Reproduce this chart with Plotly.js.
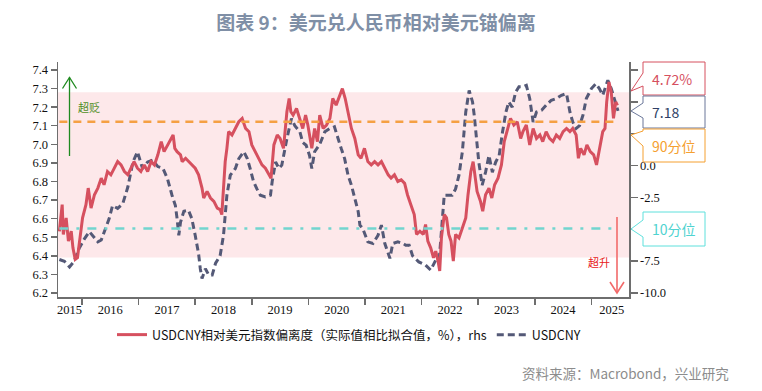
<!DOCTYPE html>
<html><head><meta charset="utf-8">
<script src="https://cdn.plot.ly/plotly-3.0.1.min.js"></script>
<style>html,body{margin:0;padding:0;background:#fff}#chart{width:762px;height:391px}</style>
</head><body><div id="chart"></div>
<script>
// ---------- DATA (time in decimal years) ----------
const usdT = [2015.60,2015.69,2015.78,2015.86,2015.95,2016.04,2016.13,2016.19,2016.28,2016.34,2016.42,2016.48,2016.54,2016.63,2016.72,2016.81,2016.90,2016.98,
2017.07,2017.16,2017.25,2017.34,2017.43,2017.51,2017.59,2017.65,2017.68,2017.71,2017.74,2017.80,2017.88,2017.94,
2018.00,2018.06,2018.09,2018.12,2018.18,2018.24,2018.30,2018.36,2018.44,2018.50,2018.56,2018.62,2018.71,2018.77,2018.86,2018.92,2018.97,
2019.03,2019.09,2019.15,2019.24,2019.33,2019.36,2019.42,2019.48,2019.53,2019.62,2019.70,2019.76,2019.85,2019.90,2019.96,
2020.02,2020.06,2020.11,2020.20,2020.29,2020.38,2020.46,2020.52,2020.58,2020.64,2020.70,2020.76,2020.82,2020.88,2020.91,2020.96,
2021.05,2021.14,2021.23,2021.29,2021.35,2021.44,2021.49,2021.58,2021.67,2021.72,2021.78,2021.84,2021.95,
2022.07,2022.16,2022.25,2022.31,2022.34,2022.40,2022.45,2022.54,2022.60,2022.66,2022.72,2022.75,2022.78,2022.84,2022.90,2022.93,2022.96,2022.98,
2023.01,2023.07,2023.13,2023.19,2023.25,2023.31,2023.37,2023.43,2023.49,2023.54,2023.60,2023.66,2023.72,2023.79,2023.85,2023.91,2023.97,
2024.03,2024.12,2024.20,2024.29,2024.38,2024.47,2024.56,2024.62,2024.67,2024.73,2024.79,2024.85,2024.91,
2025.00,2025.08,2025.14,2025.20,2025.26,2025.29,2025.35,2025.41,2025.47];
const usdV = [6.38,6.37,6.34,6.37,6.44,6.49,6.53,6.51,6.475,6.485,6.547,6.60,6.67,6.655,6.68,6.77,6.905,6.96,
6.87,6.905,6.915,6.88,6.87,6.815,6.726,6.67,6.60,6.51,6.58,6.64,6.645,6.60,
6.51,6.41,6.33,6.278,6.33,6.296,6.296,6.36,6.40,6.51,6.726,6.834,6.87,6.923,6.96,6.923,6.87,
6.80,6.76,6.726,6.717,6.726,6.80,6.905,6.87,6.888,7.03,7.138,7.10,7.067,7.01,6.995,
6.94,6.87,6.96,7.00,7.067,7.085,7.094,7.03,6.977,6.923,6.834,6.78,6.708,6.637,6.565,6.547,
6.475,6.466,6.51,6.565,6.466,6.386,6.466,6.475,6.466,6.457,6.457,6.40,6.367,
6.35,6.323,6.377,6.377,6.51,6.726,6.726,6.726,6.76,6.834,6.96,7.05,7.174,7.29,7.228,7.156,7.05,6.977,
6.905,6.78,6.85,6.94,6.85,6.905,6.94,7.067,7.174,7.228,7.20,7.28,7.31,7.31,7.318,7.246,7.12,
7.174,7.183,7.21,7.237,7.246,7.264,7.273,7.174,7.12,7.085,7.10,7.156,7.246,
7.30,7.326,7.30,7.264,7.318,7.345,7.30,7.246,7.18];

const devT = [2015.60,2015.65,2015.67,2015.72,2015.76,2015.81,2015.84,2015.88,2015.92,2015.96,
2016.01,2016.07,2016.11,2016.16,2016.22,2016.28,2016.34,2016.39,2016.45,2016.51,2016.57,2016.63,2016.69,2016.75,2016.81,2016.87,2016.92,2016.98,
2017.04,2017.10,2017.16,2017.22,2017.28,2017.34,2017.40,2017.45,2017.51,2017.57,2017.61,2017.64,2017.68,2017.74,2017.77,2017.83,2017.89,2017.94,
2018.00,2018.06,2018.12,2018.15,2018.21,2018.27,2018.33,2018.39,2018.44,2018.47,2018.50,2018.53,2018.56,2018.59,2018.65,2018.71,2018.77,2018.83,2018.89,2018.95,
2019.00,2019.06,2019.12,2019.18,2019.24,2019.30,2019.34,2019.39,2019.45,2019.50,2019.56,2019.62,2019.66,2019.69,2019.73,2019.79,2019.85,2019.90,2019.95,2019.99,
2020.06,2020.11,2020.16,2020.20,2020.26,2020.32,2020.38,2020.43,2020.49,2020.55,2020.60,2020.65,2020.70,2020.76,2020.82,2020.88,2020.93,2020.99,
2021.05,2021.11,2021.17,2021.23,2021.29,2021.35,2021.41,2021.46,2021.52,2021.58,2021.64,2021.70,2021.75,2021.81,2021.87,2021.91,2021.97,
2022.03,2022.07,2022.11,2022.16,2022.21,2022.25,2022.29,2022.32,2022.35,2022.40,2022.44,2022.48,2022.52,2022.56,2022.60,2022.66,2022.72,2022.78,2022.82,2022.87,2022.91,2022.94,2022.98,
2023.04,2023.08,2023.13,2023.19,2023.24,2023.29,2023.35,2023.41,2023.46,2023.52,2023.57,2023.63,2023.69,2023.75,2023.79,2023.85,2023.91,2023.97,
2024.03,2024.09,2024.14,2024.20,2024.26,2024.32,2024.38,2024.44,2024.50,2024.56,2024.62,2024.67,2024.73,2024.77,2024.81,2024.87,2024.92,2024.98,
2025.04,2025.09,2025.14,2025.20,2025.24,2025.27,2025.31,2025.35,2025.39,2025.43,2025.46];
const devV = [-5.16,-3.07,-5.41,-4.11,-5.94,-5.16,-6.46,-7.37,-7.24,-5.68,
-4.11,-3.07,-1.77,-3.34,-2.29,-1.77,-0.99,-1.51,-0.47,-0.73,-0.21,0.31,0.05,-0.47,-0.73,-0.21,0.31,-0.21,
-0.47,0.05,-0.47,0.31,0.05,0.84,1.88,1.09,1.62,2.13,2.40,1.35,1.09,0.84,0.31,0.57,0.31,0.05,
-0.21,-0.73,-1.77,-2.55,-2.03,-2.55,-2.81,-3.34,-3.46,-3.85,-1.77,0.31,1.35,2.66,2.40,2.91,3.44,3.70,2.91,2.66,
1.62,1.09,0.57,0.05,-0.21,-0.73,-0.99,1.62,2.40,2.13,1.35,4.22,5.26,4.22,3.96,4.48,3.70,2.91,3.96,3.18,
1.35,2.91,1.88,3.96,2.91,3.18,3.70,5.26,4.74,5.52,6.04,5.26,4.22,2.91,2.13,0.84,0.57,1.35,
0.31,0.05,0.31,0.05,0.31,-0.21,-0.73,-0.99,-0.73,-1.25,-1.12,-1.40,-2.29,-3.07,-3.85,-5.41,-5.16,
-5.41,-4.63,-5.94,-6.46,-7.24,-6.72,-7.50,-8.28,-5.68,-3.85,-4.11,-5.41,-5.94,-7.50,-5.41,-5.68,-4.90,-4.11,-2.29,-0.47,0.31,-0.73,-2.03,
-2.81,-3.59,-2.29,-1.77,-2.55,-1.51,-0.99,0.05,1.88,2.91,3.70,3.18,3.44,2.13,2.66,3.18,1.62,2.91,
2.13,2.40,1.88,2.66,2.13,1.88,2.40,2.13,2.66,2.91,2.66,2.91,2.40,0.57,1.35,0.84,1.62,1.09,
0.84,0.05,1.35,2.66,2.91,5.00,6.56,5.78,3.70,5.00,4.72];

const yearLabels = ['2015','2016','2017','2018','2019','2020','2021','2022','2023','2024','2025'];
const yearLabelPos = [2015.78,2016.5,2017.5,2018.5,2019.5,2020.5,2021.5,2022.5,2023.5,2024.5,2025.36];
const yearTicks = [2016,2017,2018,2019,2020,2021,2022,2023,2024,2025];
const leftTicks = [6.2,6.3,6.4,6.5,6.6,6.7,6.8,6.9,7.0,7.1,7.2,7.3,7.4];
const rightTicks = [-10,-7.5,-5,-2.5,0,2.5,5,7.5];
const rightTickText = ['-10.0','-7.5','','-2.5','0.0','','',''];
const pct90 = 3.44, pct10 = -4.95;          // percentile lines (rhs)
const bandLow = 6.39, bandHigh = 7.28;      // shaded zone (lhs)
const lastDevLabel = '4.72%', lastUsdLabel = '7.18';
const nameDev = 'USDCNY相对美元指数偏离度（实际值相比拟合值，%），rhs';
const nameUsd = 'USDCNY';

// ---------- LAYOUT HELPERS ----------
const W = 762, H = 391, L = 58, R = 629, T = 62, B = 297;
const px = x => (x - L) / (R - L);
const py = y => (B - y) / (B - T);
const CJK = '"Noto Sans CJK SC", "Noto Sans", sans-serif';
const SERIF = '"Liberation Serif", "DejaVu Serif", serif';

function callout(y0, y1, n1, n2, ty, color) {
  const x0 = 643, x1 = 705, tx = 631;
  const p = `M ${px(x0)},${py(y0)} L ${px(x1)},${py(y0)} L ${px(x1)},${py(y1)} L ${px(x0)},${py(y1)} ` +
            `L ${px(x0)},${py(n2)} L ${px(tx)},${py(ty)} L ${px(x0)},${py(n1)} Z`;
  return {type:'path', xref:'paper', yref:'paper', path:p, fillcolor:'#ffffff',
          line:{color:color, width:1}, layer:'above'};
}
function calloutText(txt, yc, color) {
  return {xref:'paper', yref:'paper', x:px(650), y:py(yc), xanchor:'left', yanchor:'middle',
          text:txt, showarrow:false, font:{family:CJK, size:14, color:color}};
}

const t0 = devT[0], t1 = devT[devT.length-1];

const traces = [
  {x: devT, y: devV, yaxis:'y2', type:'scatter', mode:'lines', name:nameDev,
   line:{color:'#d6505f', width:3}},
  {x: usdT, y: usdV, yaxis:'y', type:'scatter', mode:'lines', name:nameUsd,
   line:{color:'#545977', width:3, dash:'7px,4px'}},
  {x:[t0,t1], y:[pct90,pct90], yaxis:'y2', mode:'lines', showlegend:false, hoverinfo:'skip',
   line:{color:'#f5a043', width:2.5, dash:'8px,6px'}},
  {x:[t0,t1], y:[pct10,pct10], yaxis:'y2', mode:'lines', showlegend:false, hoverinfo:'skip',
   line:{color:'#72d5cf', width:2.5, dash:'9px,8px,3px,8px'}}
];

const layout = {
  width:W, height:H, margin:{l:L, r:W-R, t:T, b:H-B}, paper_bgcolor:'#fff', plot_bgcolor:'rgba(0,0,0,0)',
  title:{text:'<b>图表 9：美元兑人民币相对美元锚偏离</b>', x:376/W, xref:'container', y:1-23/H, yref:'container',
         xanchor:'center', yanchor:'middle', font:{family:CJK, size:19, color:'#7f8fa6'}},
  showlegend:true,
  legend:{orientation:'h', x:px(112), y:py(320), xanchor:'left', yanchor:'top',
          font:{family:CJK, size:12.5, color:'#111'}, bgcolor:'rgba(0,0,0,0)', itemwidth:30, tracegroupgap:0},
  xaxis:{type:'linear', range:[2015.576, 2025.664], showgrid:false, zeroline:false,
         showline:true, linecolor:'#6e6e6e', linewidth:1.5,
         tickmode:'array', tickvals:yearLabelPos, ticktext:yearLabels, ticks:'',
         tickfont:{family:SERIF, size:12.5, color:'#111'},
         minor:{tickmode:'array', tickvals:yearTicks, ticks:'outside', ticklen:6, tickcolor:'#6e6e6e', tickwidth:1.5, showgrid:false}},
  yaxis:{range:[6.178, 7.443], showgrid:false, zeroline:false, showline:true, linecolor:'#6e6e6e', linewidth:1.5,
         tickmode:'array', tickvals:leftTicks, tickformat:'.1f', ticks:'outside', ticklen:6, tickcolor:'#6e6e6e', tickwidth:1.5,
         tickfont:{family:SERIF, size:12.5, color:'#111'}},
  yaxis2:{overlaying:'y', side:'right', range:[-10.32, 8.127], showgrid:false, zeroline:false,
          showline:true, linecolor:'#6e6e6e', linewidth:1.5,
          tickmode:'array', tickvals:rightTicks, ticktext:rightTickText, ticks:'outside', ticklen:7, tickcolor:'#6e6e6e', tickwidth:1.5,
          tickfont:{family:SERIF, size:12.5, color:'#111'}},
  shapes:[
    {type:'rect', xref:'paper', yref:'y', x0:0, x1:1, y0:bandLow, y1:bandHigh, fillcolor:'#fde8ea', line:{width:0}, layer:'below'},
    // green arrow (超贬)
    {type:'line', xref:'paper', yref:'paper', x0:px(69.5), x1:px(69.5), y0:py(156), y1:py(77.5), line:{color:'#1f8a1f', width:1.3}},
    {type:'path', xref:'paper', yref:'paper', path:`M ${px(62.5)},${py(88.5)} L ${px(69.5)},${py(77.5)} L ${px(76.5)},${py(88.5)}`, line:{color:'#1f8a1f', width:1.3}},
    // red arrow (超升)
    {type:'line', xref:'paper', yref:'paper', x0:px(617), x1:px(617), y0:py(217), y1:py(293), line:{color:'#f26a6a', width:1.6}},
    {type:'path', xref:'paper', yref:'paper', path:`M ${px(610)},${py(282)} L ${px(617)},${py(293)} L ${px(624)},${py(282)}`, line:{color:'#f26a6a', width:1.6}},
    callout(62, 95, 73, 86, 91, '#d6505f'),
    callout(96, 128, 103, 118, 111, '#6b7799'),
    callout(129, 162, 131, 146, 135, '#f5a030'),
    callout(212, 246, 220, 237, 229, '#5fe0dc')
  ],
  annotations:[
    calloutText(lastDevLabel, 79, '#d6505f'),
    calloutText(lastUsdLabel, 112, '#2f3f66'),
    calloutText('90分位', 146, '#f5a030'),
    calloutText('10分位', 229, '#4fd3d0'),
    {xref:'paper', yref:'paper', x:px(88.5), y:py(107), text:'超贬', showarrow:false,
     font:{family:CJK, size:11, color:'#4f8f1f'}, xanchor:'center', yanchor:'middle'},
    {xref:'paper', yref:'paper', x:px(599), y:py(262), text:'超升', showarrow:false,
     font:{family:CJK, size:11, color:'#e82020'}, xanchor:'center', yanchor:'middle'},
    {xref:'paper', yref:'paper', x:px(731), y:py(373), text:'资料来源：Macrobond，兴业研究', showarrow:false,
     font:{family:CJK, size:13.5, color:'#8c8c8c'}, xanchor:'right', yanchor:'middle'}
  ]
};

Plotly.newPlot('chart', traces, layout, {displayModeBar:false, staticPlot:true});
</script>
</body></html>
